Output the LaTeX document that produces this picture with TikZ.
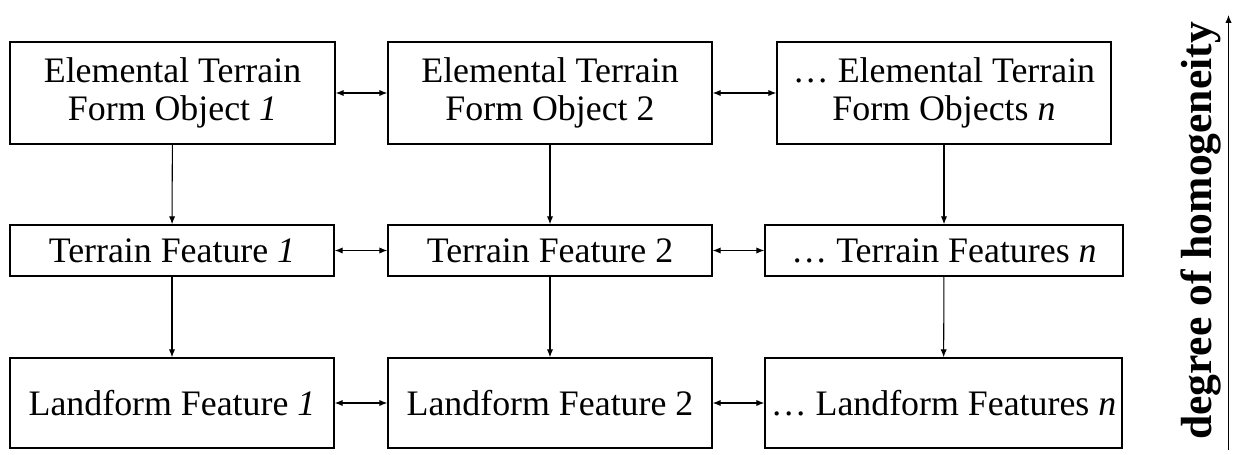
\documentclass[tikz,border=0pt]{standalone}
\usepackage{fontspec}
\setmainfont{Liberation Serif}
\usepackage{tikz}
\usetikzlibrary{arrows.meta}

\begin{document}
\begin{tikzpicture}[
    every node/.style={font=\fontsize{20.4}{21.6}\selectfont},
    box/.style={draw, line width=0.9pt, align=center, inner sep=0pt},
    toprow/.style={box, minimum height=2.04cm},
    midrow/.style={box, minimum height=1.02cm},
    lowrow/.style={box, minimum height=1.8cm},
    link/.style={line width=0.6pt, -{Latex[length=4.5pt, width=3.6pt]}},
    peer/.style={line width=0.6pt, {Latex[length=4.5pt, width=3.6pt]}-{Latex[length=4.5pt, width=3.6pt]}}
]
\useasboundingbox (0,0) rectangle (24.66,-9.10);

% 第一层：基本地形对象
\node[toprow, minimum width=6.5cm]  (eto1) at (3.45,-1.86)  {Elemental Terrain\\Form Object \textit{1}};
\node[toprow, minimum width=6.48cm] (eto2) at (11.0,-1.86)  {Elemental Terrain\\Form Object 2};
\node[toprow, minimum width=6.68cm] (eton) at (18.88,-1.86) {\ldots\ Elemental Terrain\\Form Objects \textit{n}};

% 第二层：地形特征
\node[midrow, minimum width=6.48cm] (tf1) at (3.44,-5.01)  {Terrain Feature \textit{1}};
\node[midrow, minimum width=6.48cm] (tf2) at (11.0,-5.01)  {Terrain Feature 2};
\node[midrow, minimum width=7.16cm] (tfn) at (18.88,-5.01) {\ldots\ Terrain Features \textit{n}};

% 第三层：地貌特征
\node[lowrow, minimum width=6.48cm] (lf1) at (3.44,-8.06)  {Landform Feature \textit{1}};
\node[lowrow, minimum width=6.48cm] (lf2) at (11.0,-8.06)  {Landform Feature 2};
\node[lowrow, minimum width=7.14cm] (lfn) at (18.87,-8.06) {\ldots\ Landform Features \textit{n}};

% 层间箭头
\foreach \c in {1,2,n} {
    \draw[link] (eto\c) -- (tf\c);
    \draw[link] (tf\c) -- (lf\c);
}

% 同层双向箭头
\draw[peer] (eto1) -- (eto2);
\draw[peer] (eto2) -- (eton);
\draw[peer] (tf1) -- (tf2);
\draw[peer] (tf2) -- (tfn);
\draw[peer] (lf1) -- (lf2);
\draw[peer] (lf2) -- (lfn);

% 同质程度轴
\coordinate (hlow) at (24.57,-9.0);
\coordinate (hhigh) at (24.57,-0.3);
\draw[link] (hlow) -- (hhigh);
\node[rotate=90, font=\fontsize{24.8}{26}\selectfont\bfseries] (homog) at (24.02,-4.62) {degree of homogeneity};

\end{tikzpicture}
\end{document}
